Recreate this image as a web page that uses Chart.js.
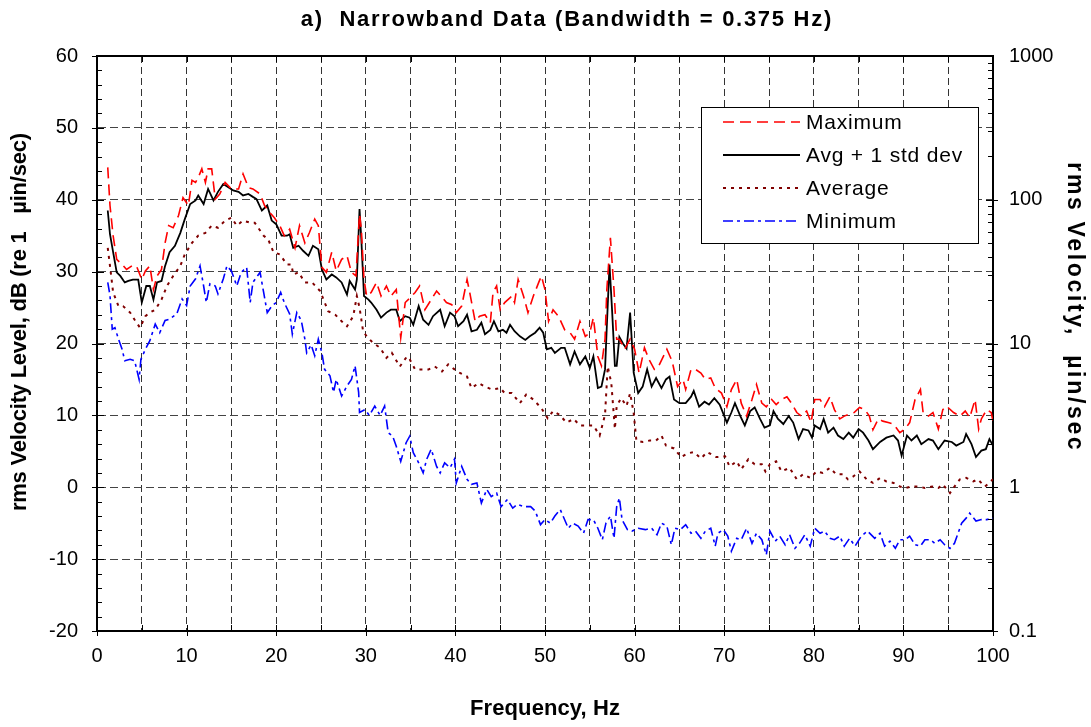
<!DOCTYPE html>
<html>
<head>
<meta charset="utf-8">
<script src="https://cdn.jsdelivr.net/npm/chart.js@4/dist/chart.umd.min.js"></script>
<style>
html,body{margin:0;padding:0;background:#fff;}
#wrap{width:1091px;height:727px;}
</style>
</head>
<body>
<div id="wrap"><canvas id="c" width="1091" height="727"></canvas></div>
<script>
const titleText = 'a)  Narrowband Data (Bandwidth = 0.375 Hz)';
const xTitle = 'Frequency, Hz';
const yTitle = 'rms Velocity Level, dB (re 1   \u00b5in/sec)';
const y2Title = 'rms Velocity,  \u00b5in/sec';
const seriesNames = ['Maximum', 'Avg + 1 std dev', 'Average', 'Minimum'];

const maxFreq = [1.2,1.45,1.8,2.2,2.8,3.3,3.9,4.4,5.0,5.4,5.9,6.3,6.7,7.2,7.6,8.0,8.5,9.1,9.6,10.2,10.6,11.0,11.3,11.7,12.1,12.4,12.8,13.2,13.7,14.3,15.0,15.8,16.3,16.9,17.4,18.2,18.7,19.3,19.8,20.4,20.9,21.5,22.1,22.6,23.2,23.7,24.3,24.7,25.1,25.6,26.2,26.7,27.3,27.9,28.4,28.9,29.3,29.5,29.8,30.1,30.6,31.2,31.7,32.3,32.8,33.4,33.9,34.4,34.9,35.5,36.0,36.6,37.1,37.9,38.4,39.0,39.6,40.1,40.7,41.3,41.6,42.2,42.7,43.3,43.9,44.2,44.6,45.0,45.5,46.3,46.6,47.0,47.6,48.1,48.7,49.3,49.6,50.0,50.4,50.9,51.5,52.2,52.8,53.3,53.9,54.5,55.0,55.4,55.9,56.3,56.7,56.9,57.3,57.7,58.0,58.3,58.9,59.5,60.0,60.5,61.1,61.6,62.2,62.7,63.6,64.2,64.8,65.4,65.7,66.3,66.8,67.4,67.9,68.5,69.0,69.7,70.3,70.8,71.4,71.9,72.5,73.1,73.6,74.2,74.7,75.3,75.8,76.4,77.0,77.5,78.1,78.6,79.2,79.7,80.1,80.7,81.2,81.8,82.3,82.9,83.4,84.0,84.5,85.1,85.7,86.2,86.6,87.2,87.7,88.3,88.9,89.6,90.2,90.7,91.3,91.9,92.2,92.8,93.3,93.9,94.4,94.8,95.6,96.3,96.9,97.4,98.0,98.4,98.7,99.3,99.8,100];
const maxLevel = [44.5,39.2,35,31.7,31,30.3,30.8,30.8,28.9,30.1,30.8,27.5,29.4,30.3,34,36.4,36.1,37.8,40.3,39.2,42.7,42.4,43.1,44.3,42.4,44.3,44.3,40.1,40.8,42.4,41.5,41.5,43.6,41.7,41.5,40.8,39.2,38.2,37.5,36.4,35,35.9,33.3,36.4,34,35.4,37.3,36.4,30.6,29.9,32.7,30.1,31.7,32.2,29.9,29.4,38,35.9,28.9,26.6,27.1,28.5,26.6,28,26.6,27.5,20.8,25.7,26.3,27.1,28,24.7,25.7,27.3,26.6,25.7,25.4,24.3,25.2,28.9,27.1,23.1,23.8,24,22.9,27.1,28,24.7,25.7,26.6,25.7,28.9,26.6,24.3,26.6,28.5,29.4,27.5,23.1,24.7,23.8,21.9,21.5,20.6,23.1,21,21.5,23.6,18.2,16.9,20.6,27.5,34.7,27.5,20.6,20.6,19.2,20.6,19.2,15.9,19.4,17.8,16.4,16.9,19.2,17.5,14,15,13.6,16.4,16.4,15.9,15,15.2,13.8,13.1,11.2,13.6,15,11.7,9.9,12.2,14.3,11.7,11.2,12.2,11.5,12.2,12.6,11.7,10.4,9.9,10.6,9,12.2,12.2,11.2,12.6,10.8,9.5,9.9,10.2,10.4,11.1,10.8,9.9,8,9.5,9.2,9,8.8,7.6,8.1,9,12.2,13.6,10.4,9.9,10.4,8.1,10.8,11.3,10.4,9.9,10.6,9.7,12.2,8.1,9.5,10.8,10.4,9.2];

const avgSdFreq = [1.2,1.45,1.8,2.2,2.6,3.1,3.5,4.0,4.6,5.0,5.5,5.9,6.3,6.7,7.2,7.6,8.1,8.7,9.3,9.8,10.4,11.0,11.3,11.9,12.4,13.0,13.5,14.1,14.7,15.2,15.8,16.3,16.9,17.4,17.8,18.4,19.0,19.5,20.0,20.6,21.2,21.5,21.9,22.5,23.0,23.6,24.1,24.7,25.1,25.6,26.2,26.7,27.3,27.9,28.2,28.8,29.0,29.3,29.5,29.8,30.3,30.6,31.2,31.7,32.3,32.8,33.4,33.8,34.4,34.9,35.3,35.9,36.4,37.0,37.5,38.3,38.8,39.4,39.9,40.3,40.9,41.3,41.8,42.4,42.9,43.3,43.9,44.3,44.8,45.3,45.7,46.1,46.6,47.2,47.8,48.3,48.9,49.4,49.8,50.2,50.7,51.1,51.8,52.2,52.8,53.3,53.9,54.5,55.0,55.4,55.9,56.3,56.7,56.9,57.2,57.5,57.8,58.0,58.3,58.7,59.1,59.5,59.9,60.4,60.9,61.4,61.9,62.4,63.0,63.5,63.9,64.4,65.0,65.7,66.3,66.6,67.2,67.8,68.3,68.9,69.5,70.3,70.8,71.2,71.8,72.3,72.9,73.4,74.0,74.5,75.1,75.5,76.0,76.6,77.2,77.7,78.3,78.8,79.4,79.8,80.1,80.7,81.1,81.6,82.2,82.7,83.3,83.9,84.4,85.0,85.5,86.1,86.6,87.4,88.1,88.9,89.4,89.8,90.4,90.9,91.5,92.0,92.8,93.3,93.9,94.6,95.4,95.9,96.7,97.0,97.6,98.1,98.7,99.2,99.6,100];
const avgSdLevel = [38.5,35.2,32.7,29.9,29.4,28.5,28.7,28.9,28.9,25.7,28,28,26.1,28.5,28.7,30.8,32.7,33.6,35.4,37.3,39.4,39.9,40.6,39.4,41.5,39.9,41.1,42.2,41.7,41.3,41.1,40.6,40.8,40.4,40.1,38.5,39.2,37.1,36.6,35,35,35.2,33.3,33.6,32.9,32.2,33.6,33.1,30.3,28.9,29.6,29.2,28.5,26.8,28.7,27.5,28.9,38.7,34.5,26.6,26.1,25.7,24.7,23.6,24.3,24.7,24.7,23.1,23.8,23.6,22.6,25.2,23.3,22.6,23.8,24.7,22.4,24.3,23.8,22.4,23.1,24,21.7,21.9,22.9,21.3,21.9,23.1,21.7,21.9,21.5,22.6,21.7,21,20.5,21,21.5,22.2,21.5,19.2,19.4,18.7,19.4,19.4,17.1,18.9,17.1,18.2,16.6,18.2,13.8,14,16.4,22.4,31,24.3,16.9,16.9,20.9,20,19.3,24.3,15.9,13.1,14,16.4,14,15.2,13.8,15,15.4,12.2,11.7,11.7,12.6,13.4,11.2,11.9,11.5,12.4,11.5,9,10.4,11.7,9.9,8.6,10.6,11.1,9.5,8.3,8.6,10.6,9.5,8.8,9.9,9,6.7,8.1,7.9,6.9,8.6,8.1,9.5,7.6,8.3,7.2,6.7,7.6,6.9,8.1,7.6,6.5,5.3,6.3,6.9,7.2,6.5,4.4,7.2,6.5,7.2,6,6.7,6.5,5.3,6.5,6.3,5.8,6.3,7.4,6,4.2,5.1,5.3,6.7,5.8];

const avgFreq = [1.2,1.45,1.8,2.4,2.9,3.7,4.2,4.8,5.4,5.9,6.5,7.2,7.8,8.5,9.3,9.8,10.6,11.3,12.1,12.8,13.5,14.3,15.0,15.6,16.3,17.1,17.6,18.6,19.1,19.7,20.4,21.2,21.7,21.9,22.5,23.2,24.0,24.9,25.8,26.6,27.3,27.9,28.6,29.0,29.3,29.7,30.1,30.8,31.6,32.3,32.9,33.8,34.6,34.9,35.5,36.2,37.0,37.7,38.5,39.2,39.9,40.5,41.3,41.8,42.6,43.3,44.1,45.0,45.5,46.3,47.2,47.9,48.7,49.6,50.3,50.9,51.6,52.4,53.2,53.9,54.6,55.4,56.1,56.7,57.0,57.4,57.8,58.0,58.5,59.1,59.5,59.9,60.2,60.9,61.7,62.4,63.0,63.5,64.4,65.2,65.9,66.6,67.4,68.1,69.1,70.1,70.6,71.4,71.9,72.7,73.4,74.2,74.6,75.1,75.8,76.4,77.3,78.1,78.8,79.6,80.3,81.0,81.8,82.5,83.3,83.8,84.4,85.1,85.9,86.6,87.4,88.1,88.9,89.6,90.2,90.9,91.7,92.4,93.2,93.9,94.4,95.2,95.7,96.3,97.0,97.8,98.3,99.1,100];
const avgLevel = [33.3,30.8,27.1,25.2,25.2,24.3,23.3,22.2,23.8,24.3,24.7,26.1,28,29.4,30.8,32.4,34,35,35.4,36.4,36.1,37.1,37.5,36.4,37.1,36.8,36.8,35,34.5,32.7,32.4,31,31,29.6,29.9,28.5,28.5,27.3,24.5,24,23.1,22.4,23.8,26.6,25,21.7,21,20.1,19.4,18,18.7,16.8,18.2,17.8,16.4,16.4,16.4,16.8,16.1,17.1,16.4,15.9,15.4,13.8,14.5,14,13.6,13.8,13.1,13.1,11.7,12.9,12.2,11,9.6,10.6,10.1,9,9.5,8.6,8.6,8.6,7.2,10.1,16.8,14.5,8.1,11.3,12.4,11.3,13.1,10.3,6.5,6.3,6.5,6.5,7.2,5.8,5.4,4.2,4.7,4.9,4,4.9,4.2,4.3,2.9,3.6,2.5,3.9,3.2,3.2,2.2,3.2,3.6,2.2,2.7,1.1,1.8,1.3,2.2,2,2.7,1.8,1.8,1.1,1.5,2.2,1.1,0.6,1.3,0.8,0.6,0.1,-0.1,0.1,0.1,-0.1,0.1,-0.1,0.4,-0.8,0.1,1.1,1.3,0.8,1.1,0.1,1.1];

const minFreq = [1.2,1.45,1.7,2.0,2.4,2.8,3.1,3.7,4.2,4.7,4.9,5.4,5.9,6.5,7.0,7.6,8.1,8.9,9.5,10.0,10.4,11.0,11.5,11.9,12.2,12.6,13.2,13.5,14.1,14.5,15.0,15.6,16.1,16.7,17.1,17.4,18.2,18.6,19.0,19.5,20.0,20.5,20.9,21.5,21.8,22.3,22.8,23.2,23.4,23.9,24.3,24.7,25.1,25.4,26.0,26.4,26.7,27.3,27.9,28.4,28.8,29.2,29.3,29.9,30.4,31.0,31.6,32.1,32.5,33.0,33.4,33.9,34.5,34.9,35.3,35.9,36.4,36.8,37.3,37.9,38.3,38.8,39.4,39.9,40.1,40.7,41.3,41.8,42.4,42.9,43.5,44.0,44.6,45.1,45.8,46.4,46.9,47.7,48.4,48.9,49.5,50.0,50.6,51.1,51.7,52.6,53.1,53.7,54.3,54.8,55.4,55.9,56.4,56.8,57.3,57.7,58.0,58.3,58.6,59.2,59.7,60.4,61.2,61.9,62.5,63.0,63.6,64.1,64.5,65.1,65.7,66.3,66.8,67.4,67.9,68.5,69.0,69.3,69.9,70.4,70.8,71.4,71.9,72.5,73.1,73.6,74.2,74.7,75.1,75.7,76.2,76.8,77.3,77.9,78.4,79.0,79.6,80.1,80.7,81.2,81.8,82.3,82.9,83.4,84.0,84.6,85.3,86.0,86.8,87.4,87.9,88.5,89.1,89.6,90.2,90.7,91.3,91.9,92.4,93.0,93.5,94.1,94.6,95.2,95.7,96.1,96.5,97.0,97.4,98.1,98.7,99.3,100];
const minLevel = [28.5,26.7,22,22.2,20.6,19.2,17.6,17.8,17.6,15,17.8,19.2,20.4,22.7,21.5,23.2,23.4,24.1,26.2,25.3,28,29,30.8,28,25.7,28.3,28,26.9,29,30.8,30.1,28,29.9,30.6,25.7,28.5,29.9,27.1,24.3,25.2,25.7,27.1,25.7,24.1,21.3,24.3,23.2,20.6,18.7,19.8,18.3,20.6,18.7,16.4,15.5,13.2,15,12.7,14.1,15,16.9,13.2,10.4,10.8,10,11.3,10,11.3,7.6,7.1,5.7,3.6,6.2,7.1,4.8,3.4,2,3.9,5.3,2.9,2,3.4,2.7,3.9,0.6,2.9,1.1,0.4,0.6,-2.2,-0.3,-1.3,-0.8,-2.7,-1.7,-2.9,-2.4,-2.7,-2.7,-3.3,-5.2,-4.5,-5,-4,-3.1,-5.7,-5,-5.4,-6.4,-4.5,-4.5,-5.7,-7.3,-5,-4,-7.1,-2.7,-1.5,-4.5,-5.9,-6.1,-5.7,-5.9,-5.7,-6.6,-5,-5.4,-8,-5.7,-5.9,-5.2,-6.4,-6.1,-7.1,-6.1,-5.7,-8.2,-6.4,-5.9,-6.8,-8.9,-7.1,-7.3,-5.7,-7.8,-6.4,-7.3,-9.4,-6.1,-7.5,-6.8,-8,-6.6,-8.5,-7.8,-6.6,-8.2,-5.7,-6.4,-6.1,-7.1,-7.3,-6.8,-8.2,-7.1,-8.2,-6.8,-6.1,-7.1,-6.4,-8.2,-7.5,-8.5,-7.3,-7.3,-6.8,-8,-8.2,-7.3,-7.3,-7.8,-7.3,-8,-8.5,-7.8,-6.4,-5,-4.3,-3.6,-4.7,-4.5,-4.5,-4.3];

const xTickValues = [0,10,20,30,40,50,60,70,80,90,100];
const y2TickValues = [0.1,1,10,100,1000];

const pts = (fs, vs) => fs.map((f, i) => ({x: f, y: vs[i]}));

const FONT = "'Liberation Sans', Arial, sans-serif";
Chart.defaults.font.family = FONT;
Chart.defaults.color = '#000';

function drawText(ctx, text, cx, cy, rot, size, target) {
  ctx.save();
  ctx.font = 'bold ' + size + 'px ' + FONT;
  ctx.letterSpacing = '0px';
  const w = ctx.measureText(text).width;
  const n = text.length;
  let ls = 0;
  if (target) ls = (target - w) / n;
  ctx.letterSpacing = ls.toFixed(2) + 'px';
  const w2 = w + ls * n;
  ctx.translate(cx, cy);
  ctx.rotate(rot);
  ctx.fillStyle = '#000';
  ctx.textBaseline = 'middle';
  ctx.textAlign = 'left';
  ctx.fillText(text, -w2 / 2 + ls / 2, 0);
  ctx.restore();
}

const overlay = {
  id: 'overlay',
  afterDraw(chart) {
    const {ctx, chartArea: a, scales} = chart;
    const x = scales.x, y = scales.y, y2 = scales.y2;
    ctx.save();
    ctx.strokeStyle = '#000';
    ctx.lineWidth = 1;
    ctx.setLineDash([]);
    const line = (x1, y1, x2, y2_) => { ctx.beginPath(); ctx.moveTo(x1, y1); ctx.lineTo(x2, y2_); ctx.stroke(); };
    ctx.lineWidth = 2;
    line(a.left, a.top, a.right, a.top);
    ctx.lineWidth = 1;
    for (let v = -20; v <= 60; v += 2) {
      const py = Math.round(y.getPixelForValue(v)) + 0.5;
      if (v % 10 === 0) line(a.left - 5, py, a.left + 7, py);
      else line(a.left, py, a.left + 5, py);
    }
    for (let d = -1; d < 3; d++) {
      for (let k = 1; k < 10; k++) {
        const v = k * Math.pow(10, d);
        const py = Math.round(y2.getPixelForValue(v)) + 0.5;
        if (k === 1) line(a.right - 7, py, a.right + 5, py);
        else line(a.right - 5, py, a.right, py);
      }
    }
    for (let v = 0; v <= 100; v += 5) {
      const px = Math.round(x.getPixelForValue(v)) + 0.5;
      line(px, a.top, px, a.top + 6);
      line(px, a.bottom - 6, px, a.bottom + (v % 10 === 0 ? 5 : 0));
    }
    // legend
    const lx = 701, ly = 107, lw = 277, lh = 136;
    ctx.fillStyle = '#fff';
    ctx.fillRect(lx, ly, lw, lh);
    ctx.strokeStyle = '#000';
    ctx.lineWidth = 1;
    ctx.strokeRect(lx + 0.5, ly + 0.5, lw, lh);
    const rows = [122, 155, 188, 221];
    chart.data.datasets.forEach((ds, i) => {
      ctx.save();
      ctx.strokeStyle = ds.borderColor;
      ctx.lineWidth = ds.borderWidth;
      ctx.setLineDash(ds.borderDash || []);
      line(723, rows[i], 800, rows[i]);
      ctx.restore();
      ctx.save();
      ctx.fillStyle = '#000';
      ctx.font = '21px ' + FONT;
      ctx.letterSpacing = '0.8px';
      ctx.textBaseline = 'middle';
      ctx.textAlign = 'left';
      ctx.fillText(ds.label, 806, rows[i] + 1);
      ctx.restore();
    });
    ctx.restore();
    // titles
    drawText(ctx, titleText, 566, 20, 0, 22, 532);
    drawText(ctx, xTitle, (a.left + a.right) / 2, 709, 0, 22, 150);
    drawText(ctx, yTitle, 20, 322, -Math.PI / 2, 22, 378);
    drawText(ctx, y2Title, 1074, 306, Math.PI / 2, 23, 290);
  }
};

new Chart(document.getElementById('c'), {
  type: 'line',
  data: {
    datasets: [
      {label: seriesNames[0], data: pts(maxFreq, maxLevel), borderColor: '#ff0000', borderWidth: 1.6, borderDash: [11, 6], pointRadius: 0, fill: false, yAxisID: 'y'},
      {label: seriesNames[1], data: pts(avgSdFreq, avgSdLevel), borderColor: '#000000', borderWidth: 1.8, borderDash: [], pointRadius: 0, fill: false, yAxisID: 'y'},
      {label: seriesNames[2], data: pts(avgFreq, avgLevel), borderColor: '#800000', borderWidth: 2, borderDash: [3, 5], pointRadius: 0, fill: false, yAxisID: 'y'},
      {label: seriesNames[3], data: pts(minFreq, minLevel), borderColor: '#0000ff', borderWidth: 1.6, borderDash: [10, 4, 3, 4], pointRadius: 0, fill: false, yAxisID: 'y'}
    ]
  },
  options: {
    responsive: false,
    animation: false,
    layout: {padding: {top: 56, left: 0, right: 0, bottom: 0}},
    plugins: {
      legend: {display: false},
      tooltip: {enabled: false},
      title: {display: false}
    },
    scales: {
      x: {
        type: 'linear', min: 0, max: 100,
        afterFit: s => { s.height = 96; },
        afterBuildTicks: s => { s.ticks = []; for (let v = 0; v <= 100; v += 5) s.ticks.push({value: v}); },
        ticks: {font: {size: 20}, color: '#000', padding: 13, maxRotation: 0, autoSkip: false,
                callback: v => xTickValues.includes(v) ? String(v) : ''},
        grid: {color: '#333', lineWidth: 1, drawTicks: false},
        border: {display: true, color: '#000', width: 2, dash: [7, 4]},
        title: {display: false}
      },
      y: {
        type: 'linear', position: 'left', min: -20, max: 60,
        afterFit: s => { s.width = 97; },
        ticks: {stepSize: 10, font: {size: 20}, color: '#000', padding: 19},
        grid: {color: '#444', lineWidth: 1, drawTicks: false},
        border: {display: true, color: '#000', width: 2, dash: [8, 4]},
        title: {display: false}
      },
      y2: {
        type: 'logarithmic', position: 'right', min: 0.1, max: 1000,
        afterFit: s => { s.width = 98; },
        afterBuildTicks: s => { s.ticks = y2TickValues.map(v => ({value: v})); },
        ticks: {font: {size: 20}, color: '#000', padding: 16, autoSkip: false,
                callback: v => y2TickValues.includes(v) ? String(v) : ''},
        grid: {display: false, drawTicks: false},
        border: {display: true, color: '#000', width: 2},
        title: {display: false}
      }
    }
  },
  plugins: [overlay]
});
</script>
</body>
</html>
